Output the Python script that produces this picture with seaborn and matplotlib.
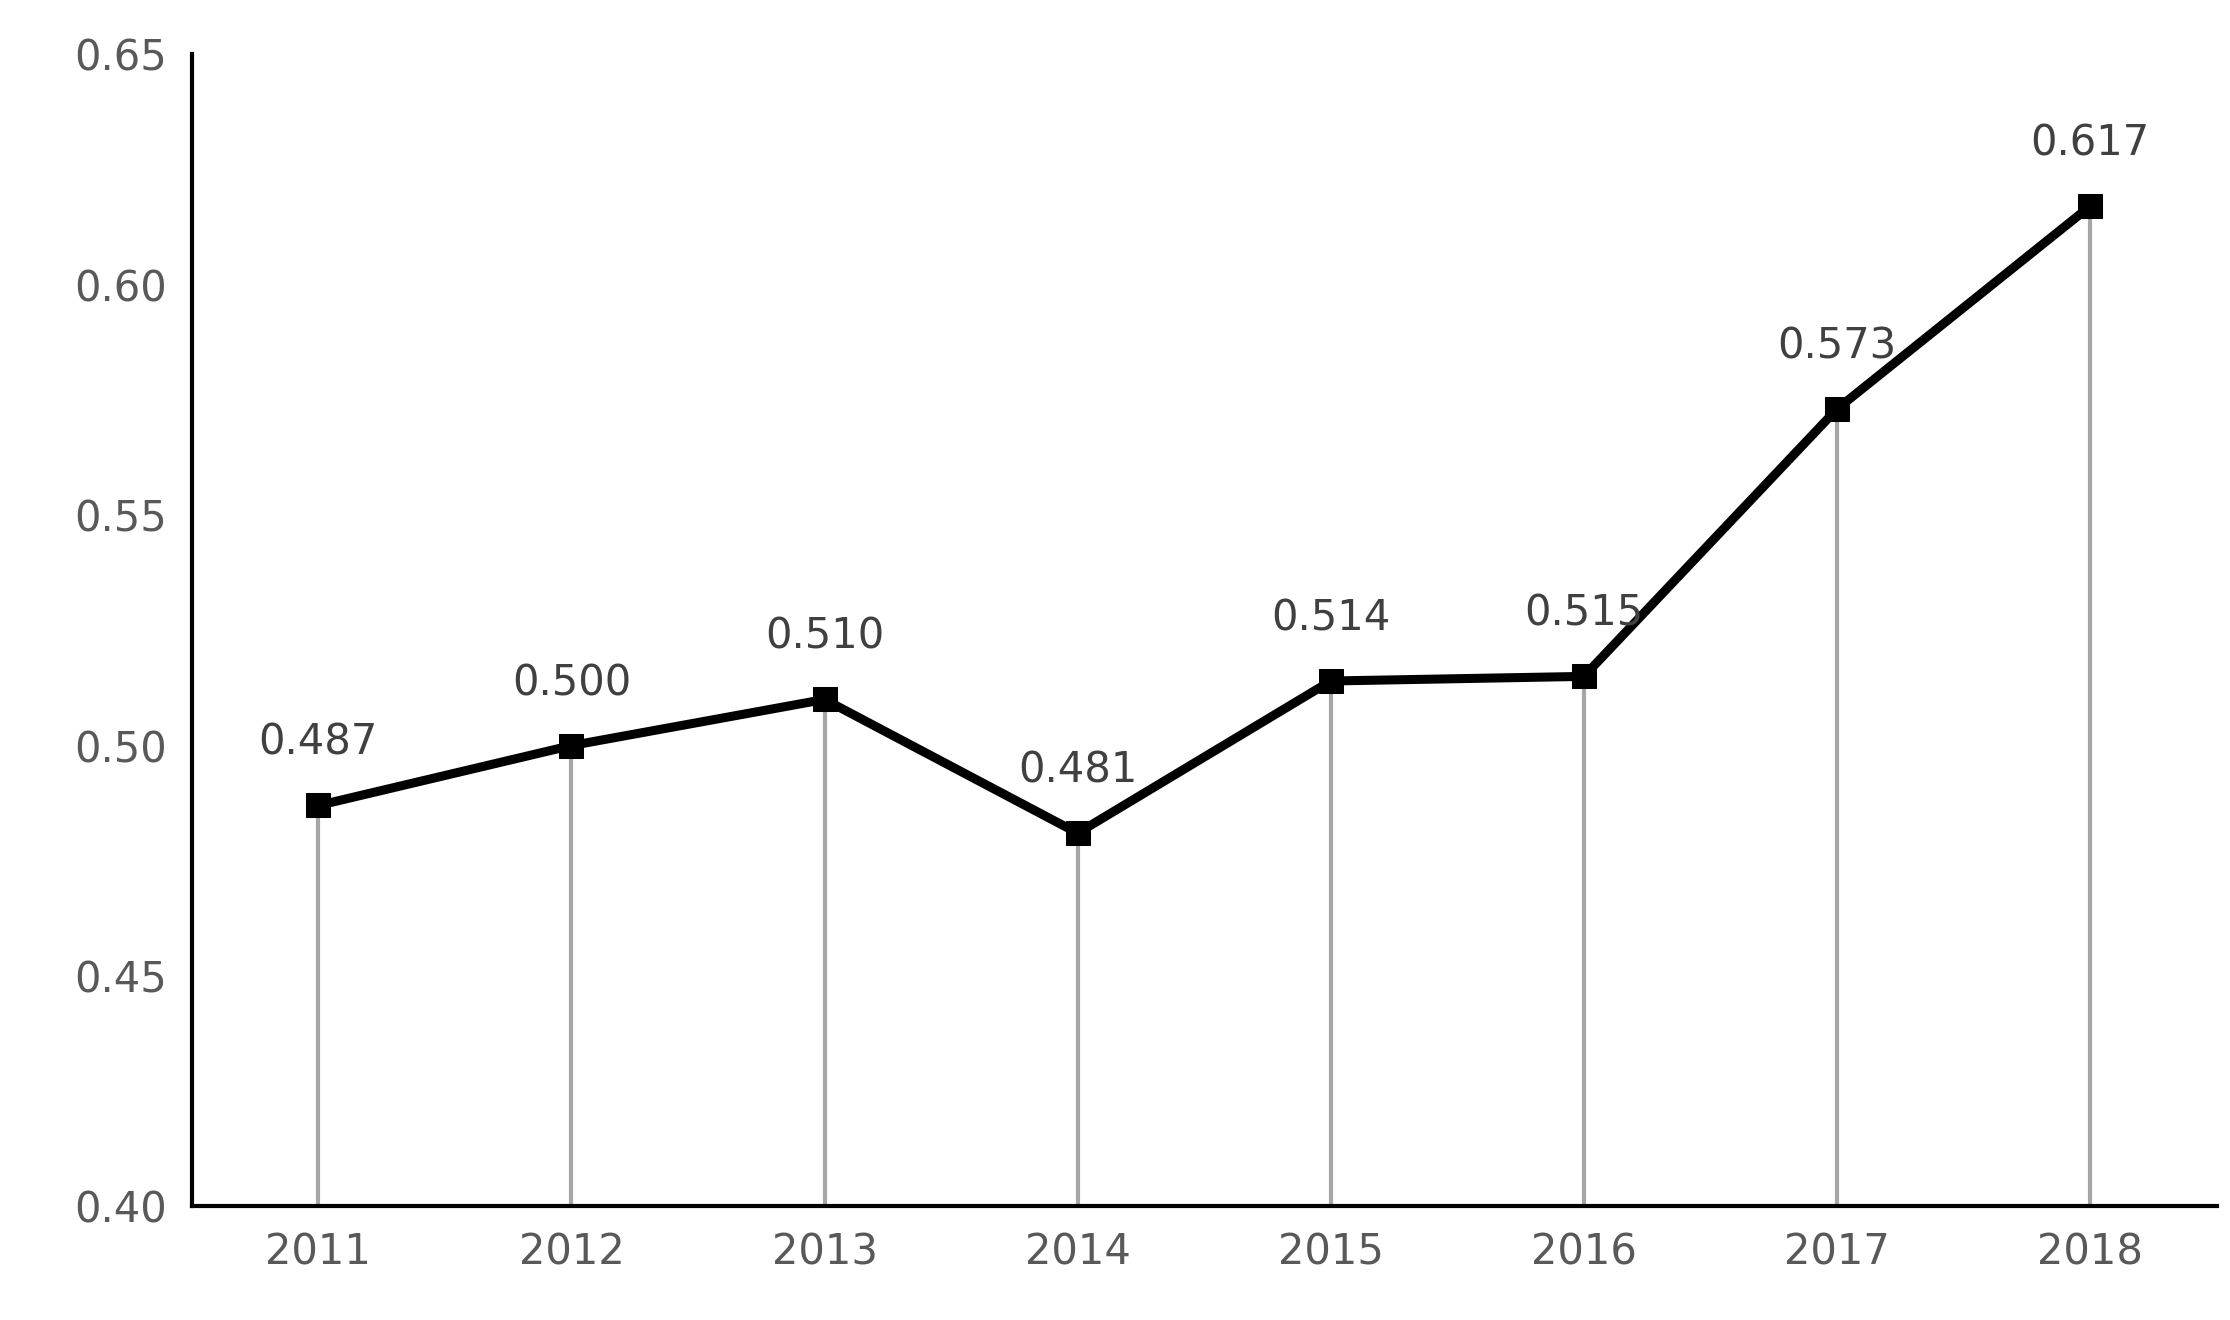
import matplotlib
matplotlib.use("Agg")
import matplotlib.pyplot as plt
import numpy as np
import pandas as pd
import seaborn as sns

years = ["2011", "2012", "2013", "2014", "2015", "2016", "2017", "2018"]
values = [0.487, 0.500, 0.510, 0.481, 0.514, 0.515, 0.573, 0.617]
labels = ["0.487", "0.500", "0.510", "0.481", "0.514", "0.515", "0.573", "0.617"]

sns.set_style("white")
plt.rcParams['font.family'] = ['DejaVu Sans']

df = pd.DataFrame({"x": np.arange(len(years)), "v": values})

fig = plt.figure(figsize=(22.3, 13.2), dpi=100)
ax = fig.add_axes([0.086, 0.086, 0.908, 0.873])

# gray drop lines from each point to the axis
ax.vlines(df["x"], 0.40, df["v"], color="#a6a6a6", lw=3, zorder=1)
sns.lineplot(data=df, x="x", y="v", ax=ax, color="black", lw=6.5,
             marker="s", markersize=17, markeredgecolor="black", zorder=3)

for xi, v, t in zip(df["x"], values, labels):
    ax.text(xi, v + 0.009, t, ha="center", va="bottom", fontsize=30, color="#404040")

ax.set_xlim(-0.5, 7.5)
ax.set_ylim(0.40, 0.65)
ax.set_yticks([0.40, 0.45, 0.50, 0.55, 0.60, 0.65])
ax.set_yticklabels(["0.40", "0.45", "0.50", "0.55", "0.60", "0.65"])
ax.set_xticks(df["x"])
ax.set_xticklabels(years)
ax.tick_params(axis="both", labelsize=30, labelcolor="#595959", length=0, pad=18)
ax.set_xlabel("")
ax.set_ylabel("")
for s in ["top", "right"]:
    ax.spines[s].set_visible(False)
for s in ["left", "bottom"]:
    ax.spines[s].set_color("black")
    ax.spines[s].set_linewidth(3)

fig.savefig("out.png", dpi=100)
